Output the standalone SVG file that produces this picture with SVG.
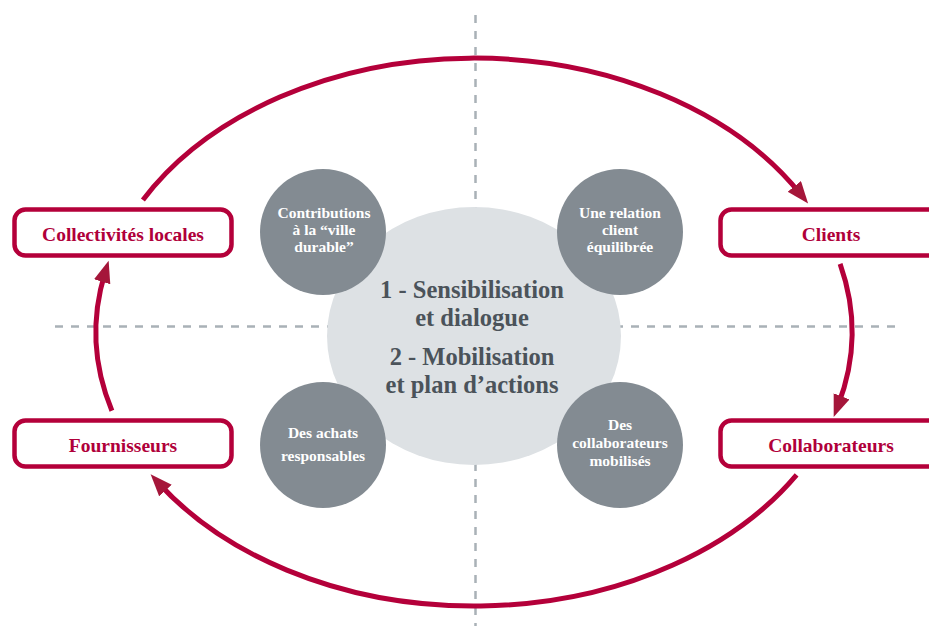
<svg xmlns="http://www.w3.org/2000/svg" width="929" height="626" viewBox="0 0 929 626">
<style>
.dash{stroke:#a9b1b7;stroke-width:2.5;stroke-dasharray:8 8;fill:none}
.arc{stroke:#b4003a;stroke-width:5;fill:none;marker-end:url(#ah)}
.box{fill:#fff;stroke:#b4003a;stroke-width:4.5}
.blabel{font-family:"Liberation Serif",serif;font-weight:bold;font-size:19.5px;fill:#b0003a;text-anchor:middle}
.sc{fill:#838b92}
.slabel{font-family:"Liberation Serif",serif;font-weight:bold;font-size:15.5px;fill:#fff;text-anchor:middle}
.clabel{font-family:"Liberation Serif",serif;font-weight:bold;font-size:24.5px;fill:#4b535a;text-anchor:middle}
</style>
<defs>
<marker id="ah" markerUnits="userSpaceOnUse" markerWidth="24" markerHeight="20" refX="10" refY="8.5" orient="auto" viewBox="0 0 24 20">
<path d="M0,0 L22,8.5 L0,17 z" fill="#a5163a"/>
</marker>
</defs>
<rect width="929" height="626" fill="#fff"/>
<g id="axes">
<line class="dash" x1="475.5" y1="15" x2="475.5" y2="626"/>
<line class="dash" x1="55" y1="326.5" x2="895" y2="326.5"/>
</g>
<g id="center">
<ellipse cx="474" cy="336" rx="147" ry="129" fill="#dde1e4"/>
<text class="clabel" x="472" y="298">1 - Sensibilisation</text>
<text class="clabel" x="472" y="326">et dialogue</text>
<text class="clabel" x="472" y="365">2 - Mobilisation</text>
<text class="clabel" x="472" y="393">et plan d’actions</text>
</g>
<g id="c-contributions">
<circle class="sc" cx="323" cy="232" r="63"/>
<text class="slabel" x="324" y="218">Contributions</text>
<text class="slabel" x="324" y="235">à la “ville</text>
<text class="slabel" x="324" y="252">durable”</text>
</g>
<g id="c-relation">
<circle class="sc" cx="620" cy="232" r="63"/>
<text class="slabel" x="620" y="218">Une relation</text>
<text class="slabel" x="620" y="235">client</text>
<text class="slabel" x="620" y="252">équilibrée</text>
</g>
<g id="c-achats">
<circle class="sc" cx="323" cy="445" r="63"/>
<text class="slabel" x="323" y="438">Des achats</text>
<text class="slabel" x="323" y="461">responsables</text>
</g>
<g id="c-collab">
<circle class="sc" cx="620" cy="445" r="63"/>
<text class="slabel" x="620" y="430">Des</text>
<text class="slabel" x="620" y="448">collaborateurs</text>
<text class="slabel" x="620" y="466">mobilisés</text>
</g>
<g id="connectors">
<path class="arc" d="M142.9,199.9 A378,274 0 0 1 800.6,194.2"/>
<path class="arc" d="M840.1,263.9 A378,274 0 0 1 838,405.7"/>
<path class="arc" d="M796.6,474.8 A378,274 0 0 1 158.7,483.2"/>
<path class="arc" d="M111.9,410.7 A378,274 0 0 1 105.1,272.2"/>
</g>
<g id="n-collectivites">
<rect class="box" x="14.5" y="209.5" width="217" height="46" rx="11"/>
<text class="blabel" x="123" y="241">Collectivités locales</text>
</g>
<g id="n-clients">
<rect class="box" x="720.5" y="209.5" width="240" height="46" rx="11"/>
<text class="blabel" x="831" y="241">Clients</text>
</g>
<g id="n-fournisseurs">
<rect class="box" x="14.5" y="420.5" width="217" height="46" rx="11"/>
<text class="blabel" x="123" y="452">Fournisseurs</text>
</g>
<g id="n-collaborateurs">
<rect class="box" x="720.5" y="420.5" width="240" height="46" rx="11"/>
<text class="blabel" x="831" y="452">Collaborateurs</text>
</g>
</svg>
